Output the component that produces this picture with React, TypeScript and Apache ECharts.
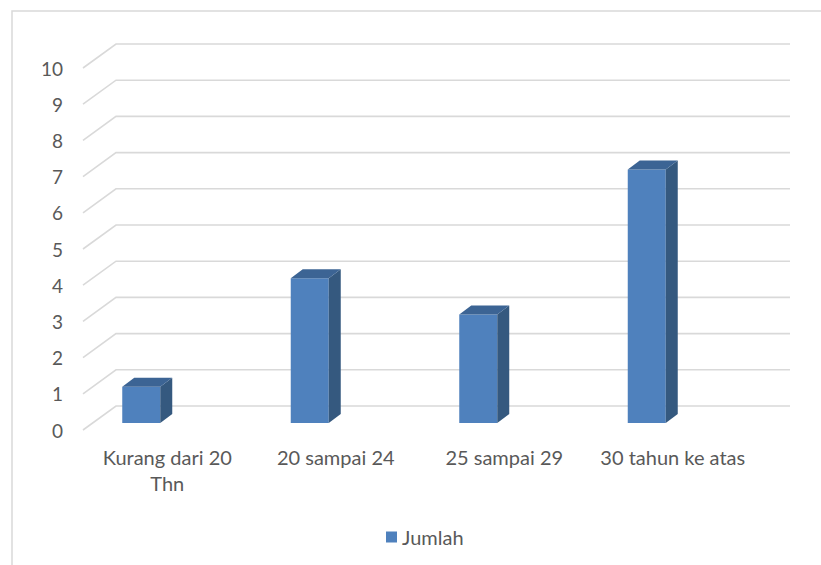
import React, { useEffect, useRef } from "react";
import * as echarts from "echarts";

const categories: string[] = ["Kurang dari 20\nThn", "20 sampai 24", "25 sampai 29", "30 tahun ke atas"];
const jumlah: number[] = [1, 4, 3, 7];
const gridValues: number[] = [0, 1, 2, 3, 4, 5, 6, 7, 8, 9, 10];
const seriesName = "Jumlah";

const FONT = "Lato";
const TEXT = "#595959";
const GRID = "#d9d9d9";
const DEPTH_X = 33;
const DEPTH_Y = 24;

export default function App() {
  const ref = useRef<HTMLDivElement>(null);
  useEffect(() => {
    document.body.style.margin = "0";
    const chart = echarts.init(ref.current!, null, { renderer: "svg" });
    chart.setOption({
      animation: false,
      backgroundColor: "#ffffff",
      textStyle: { fontFamily: FONT },
      graphic: [
        {
          type: "rect",
          shape: { x: 12, y: 11, width: 1000, height: 1000 },
          style: { fill: "none", stroke: GRID, lineWidth: 1.5 },
          silent: true,
          z: -10,
        },
      ],
      grid: { left: 83, right: 64, top: 68, bottom: 135 },
      xAxis: {
        type: "category",
        data: categories,
        axisLine: { show: false },
        axisTick: { show: false },
        axisLabel: {
          color: TEXT,
          fontFamily: FONT,
          fontSize: 20,
          lineHeight: 26,
          margin: 14,
          interval: 0,
        },
        splitLine: { show: false },
      },
      yAxis: {
        type: "value",
        min: 0,
        max: 10,
        interval: 1,
        axisLine: { show: false },
        axisTick: { show: false },
        splitLine: { show: false },
        axisLabel: { color: TEXT, fontFamily: FONT, fontSize: 19, margin: 20 },
      },
      legend: {
        data: [seriesName],
        left: 381,
        top: 522,
        icon: "rect",
        itemWidth: 11,
        itemHeight: 11,
        textStyle: { color: TEXT, fontFamily: FONT, fontSize: 20 },
      },
      series: [
        {
          type: "custom",
          name: "grid",
          silent: true,
          z: 1,
          data: gridValues.map((v) => [0, v]),
          renderItem: (params: any, api: any) => {
            const v = api.value(1);
            const y = api.coord([0, v])[1];
            const cs = params.coordSys;
            const x0 = cs.x;
            const x1 = cs.x + cs.width;
            return {
              type: "polyline",
              shape: {
                points: [
                  [x0, y],
                  [x0 + DEPTH_X, y - DEPTH_Y],
                  [x1 + DEPTH_X, y - DEPTH_Y],
                ],
              },
              style: { stroke: GRID, lineWidth: 1.6, fill: "none" },
            };
          },
        },
        {
          type: "custom",
          name: seriesName,
          z: 2,
          itemStyle: { color: "#4f81bd" },
          data: jumlah.map((v, i) => [i, v]),
          renderItem: (params: any, api: any) => {
            const i = api.value(0);
            const v = api.value(1);
            const top = api.coord([i, v]);
            const base = api.coord([i, 0]);
            const cx = top[0];
            const L = cx - 45;
            const R = L + 38;
            const yT = top[1] - 7;
            const yB = base[1] - 7;
            const sx = 12;
            const sy = 9;
            return {
              type: "group",
              children: [
                {
                  type: "rect",
                  shape: { x: L, y: yT, width: R - L, height: yB - yT },
                  style: { fill: "#4f81bd" },
                },
                {
                  type: "polygon",
                  shape: {
                    points: [
                      [R, yT],
                      [R + sx, yT - sy],
                      [R + sx, yB - sy],
                      [R, yB],
                    ],
                  },
                  style: { fill: "#35597f" },
                },
                {
                  type: "polygon",
                  shape: {
                    points: [
                      [L, yT],
                      [L + sx, yT - sy],
                      [R + sx, yT - sy],
                      [R, yT],
                    ],
                  },
                  style: { fill: "#3c6494" },
                },
              ],
            };
          },
        },
      ],
    });
    return () => chart.dispose();
  }, []);
  return <div ref={ref} style={{ width: 821, height: 565 }} />;
}
